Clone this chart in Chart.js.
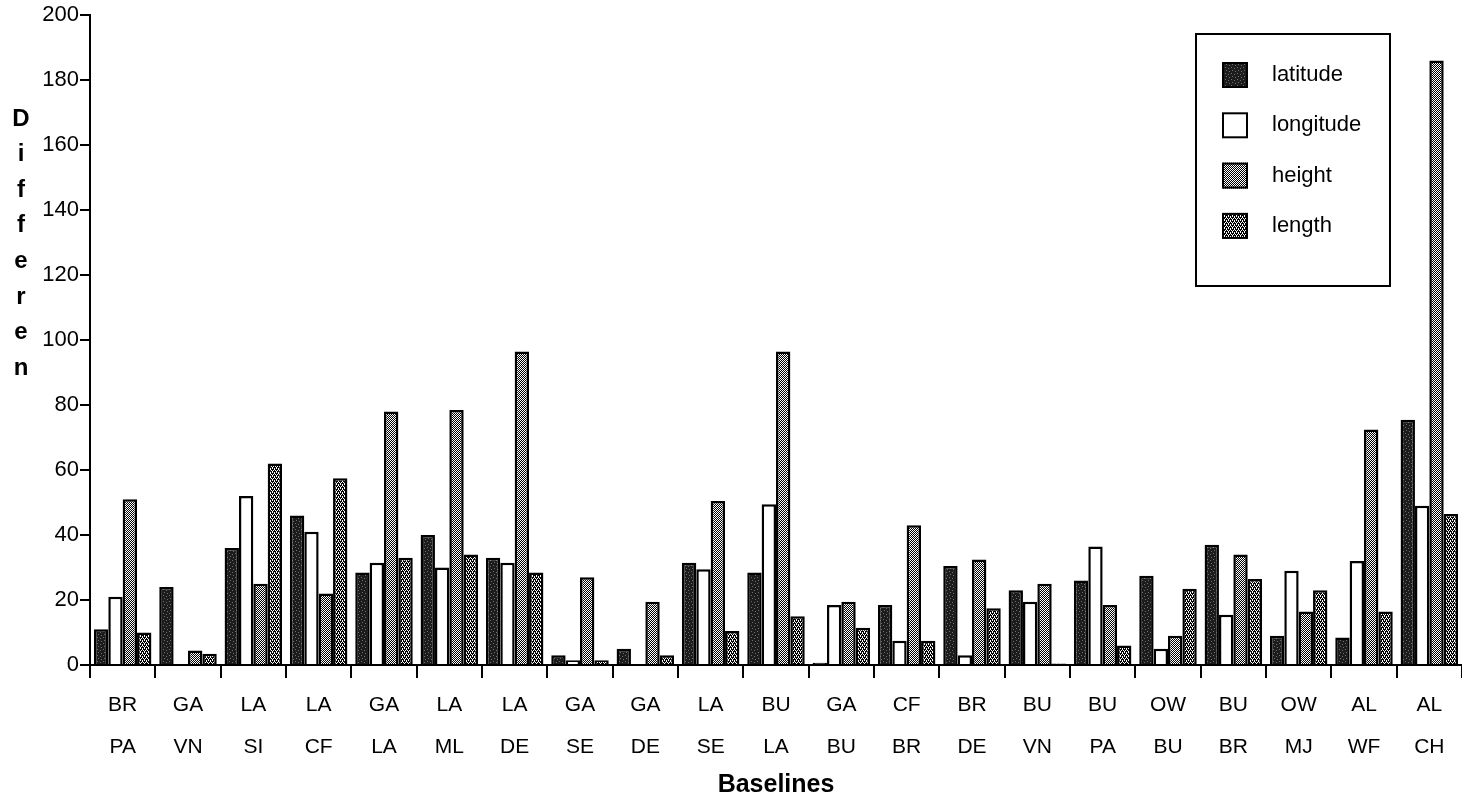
<!DOCTYPE html>
<html><head><meta charset="utf-8">
<script src="https://cdn.jsdelivr.net/npm/chart.js@4.4.1/dist/chart.umd.min.js"></script>
<style>html,body{margin:0;padding:0;background:#fff;}#wrap{position:relative;width:1462px;height:800px;}</style>
</head><body><div id="wrap"><canvas id="c" width="1462" height="800"></canvas></div>
<script>
// ---- data ----
const baselineTop    = ['BR','GA','LA','LA','GA','LA','LA','GA','GA','LA','BU','GA','CF','BR','BU','BU','OW','BU','OW','AL','AL'];
const baselineBottom = ['PA','VN','SI','CF','LA','ML','DE','SE','DE','SE','LA','BU','BR','DE','VN','PA','BU','BR','MJ','WF','CH'];
const latitude  = [11, 24, 36, 46, 28.5, 40, 33, 3, 5, 31.5, 28.5, 0.7, 18.5, 30.5, 23, 26, 27.5, 37, 9, 8.5, 75.5];
const longitude = [21, 0.3, 52, 41, 31.5, 30, 31.5, 1.5, 0.3, 29.5, 49.5, 18.5, 7.5, 3, 19.5, 36.5, 5, 15.5, 29, 32, 49];
const height    = [51, 4.5, 25, 22, 78, 78.5, 96.5, 27, 19.5, 50.5, 96.5, 19.5, 43, 32.5, 25, 18.5, 9, 34, 16.5, 72.5, 186];
const lengthVals= [10, 3.5, 62, 57.5, 33, 34, 28.5, 1.5, 3, 10.5, 15, 11.5, 7.5, 17.5, 0.5, 6, 23.5, 26.5, 23, 16.5, 46.5];
const seriesNames = ['latitude','longitude','height','length'];
const yMin = 0, yMax = 200, yStep = 20;
const yTitleLetters = ['D','i','f','f','e','r','e','n'];
const xTitle = 'Baselines';

const FONT = "'Liberation Sans',Arial,sans-serif";

const canvas = document.getElementById('c');
const mainCtx = canvas.getContext('2d');
function makePattern(size, bg, fg, pts){
  const t = document.createElement('canvas'); t.width = size; t.height = size;
  const x = t.getContext('2d');
  x.fillStyle = bg; x.fillRect(0,0,size,size);
  x.fillStyle = fg; pts.forEach(p => x.fillRect(p[0], p[1], 1, 1));
  return mainCtx.createPattern(t, 'repeat');
}
const patLat = makePattern(6, '#1c1c1c', '#707070', [[1,1],[4,2],[2,4],[5,5]]);
const patHgt = makePattern(2, '#000000', '#ffffff', [[0,0],[1,1]]);
const patLen = makePattern(4, '#000000', '#ffffff', [[0,0],[2,0],[1,2],[3,2],[2,1],[0,3]]);
const fills = [patLat, '#ffffff', patHgt, patLen];
const values = [latitude, longitude, height, lengthVals];

const labels = baselineTop.map((t,i) => [t, baselineBottom[i]]);

const overlay = {
  id: 'overlay',
  afterDraw(chart){
    const ctx = chart.ctx;
    ctx.save();
    // legend box
    ctx.fillStyle = '#fff'; ctx.fillRect(1196, 34, 194, 252);
    ctx.lineWidth = 2; ctx.strokeStyle = '#000'; ctx.strokeRect(1196, 34, 194, 252);
    chart.data.datasets.forEach((ds, i) => {
      const cy = 75 + i * 50.3;
      ctx.fillStyle = ds.backgroundColor; ctx.fillRect(1222, cy - 13, 26, 26);
      ctx.lineWidth = 2; ctx.strokeStyle = '#000'; ctx.strokeRect(1223, cy - 12, 24, 24);
      ctx.fillStyle = '#000'; ctx.font = '22px ' + FONT; ctx.textAlign = 'left'; ctx.textBaseline = 'middle';
      ctx.fillText(ds.label, 1272, cy);
    });
    // stacked y title
    ctx.fillStyle = '#000'; ctx.font = 'bold 24px ' + FONT; ctx.textAlign = 'center'; ctx.textBaseline = 'middle';
    yTitleLetters.forEach((l, i) => ctx.fillText(l, 21, 119 + i * 35.6));
    ctx.restore();
  }
};

new Chart(canvas, {
  type: 'bar',
  data: {
    labels: labels,
    datasets: seriesNames.map((n, i) => ({
      label: n, data: values[i], backgroundColor: fills[i], borderColor: '#000', borderWidth: 2.5,
      barPercentage: 1.0, categoryPercentage: 0.88, borderSkipped: 'bottom'
    }))
  },
  options: {
    responsive: false, animation: false, devicePixelRatio: 1,
    layout: { padding: { top: 15, left: 0, right: 0, bottom: 0 } },
    plugins: { legend: { display: false }, tooltip: { enabled: false } },
    scales: {
      x: {
        offset: true,
        grid: { display: true, drawOnChartArea: false, drawTicks: true, tickLength: 13, color: '#000', lineWidth: 2, offset: true },
        border: { display: true, color: '#000', width: 2 },
        ticks: { color: '#000', font: { family: FONT, size: 21, lineHeight: 2 }, maxRotation: 0, minRotation: 0, autoSkip: false, padding: 6 },
        title: { display: true, text: xTitle, color: '#000', font: { family: FONT, size: 25, weight: 'bold' }, padding: { top: 0, bottom: 0 } },
        afterFit(s){ s.height = 135; }
      },
      y: {
        min: yMin, max: yMax,
        ticks: { stepSize: yStep, color: '#000', font: { family: FONT, size: 22 }, padding: 1 },
        grid: { display: true, drawOnChartArea: false, tickLength: 10, color: '#000', lineWidth: 2 },
        border: { display: true, color: '#000', width: 2 },
        afterFit(s){ s.width = 90; }
      }
    }
  },
  plugins: [overlay]
});
</script>
</body></html>
